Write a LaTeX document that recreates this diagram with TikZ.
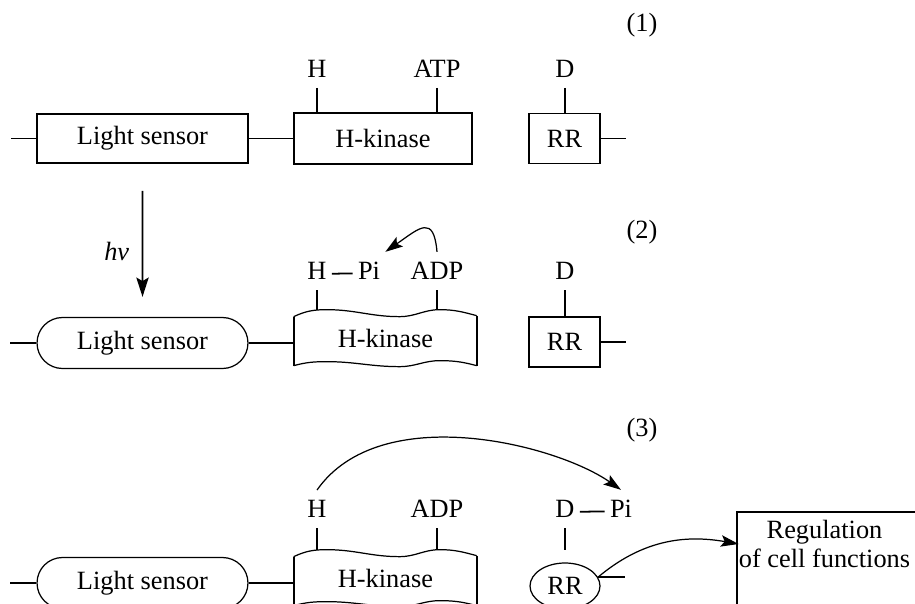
\documentclass[tikz,border=0pt]{standalone}
\usepackage{fontspec}
\setmainfont{Liberation Serif}
\usepackage{tikz}
\usetikzlibrary{
    arrows.meta,
    shapes.misc,
    shapes.geometric
}
\tikzset{
    every node/.style={font=\fontsize{15}{16}\selectfont},
    boxthick/.style={line width=1.1pt},
    thinline/.style={line width=0.7pt},
    sensorbox/.style={draw, boxthick, minimum width=4.22cm, minimum height=0.98cm, inner sep=0pt},
    sensorpill/.style={draw, thinline, rounded rectangle, minimum width=4.22cm, minimum height=1.02cm, inner sep=0pt},
    kinasebox/.style={draw, boxthick, minimum width=3.56cm, minimum height=1.02cm, inner sep=0pt},
    kinasewave/.style={minimum width=3.66cm, minimum height=1.14cm, inner sep=0pt},
    rrbox/.style={draw, boxthick, minimum width=1.42cm, minimum height=1.0cm, inner sep=0pt},
    rroval/.style={draw, thinline, ellipse, minimum width=1.4cm, minimum height=0.92cm, inner sep=0pt},
    regbox/.style={draw, boxthick, minimum width=4.8cm, minimum height=2.4cm},
    sitelabel/.style={anchor=south, inner xsep=0.1cm, inner ysep=0.2cm, text depth=0pt},
    sitetick/.style={line width=1pt},
    wire/.style={line width=1pt},
    phosarrow/.style={thinline, -{Stealth[length=10pt, width=6.5pt, inset=2pt]}},
    lightarrow/.style={line width=1pt, -{Stealth[length=11pt, width=7pt, inset=2pt]}}
}
\begin{document}
\begin{tikzpicture}[x=0.02cm, y=0.02cm]
    \useasboundingbox (0,0) rectangle (915,-604);
    \clip (0,0) rectangle (915,-604);
    % (1) dark state
    \node (n1) at (642,-25) {(1)};
    \node[sensorbox] (ls1) at (142.5,-138.5) {Light sensor};
    \node[kinasebox] (hk1) at (383,-138.5) {H-kinase};
    \node[rrbox] (rr1) at (564.5,-138.5) {RR};
    \node[sitelabel] (h1) at (317,-88) {H};
    \node[sitelabel] (atp1) at (437,-88) {ATP};
    \node[sitelabel] (d1) at (565,-88) {D};
    \draw[wire] (ls1.west) -- +(-25,0);
    \draw[wire] (ls1.east) -- (hk1.west);
    \draw[wire] (rr1.east) -- +(25,0);
    \foreach \s/\b in {h1/hk1, atp1/hk1, d1/rr1} {
        \draw[sitetick] (\s.south) -- (\s.south |- \b.north);
    }
    % (2) autophosphorylation
    \node (n2) at (642,-232) {(2)};
    \node[sensorpill] (ls2) at (142.5,-343) {Light sensor};
    \node[kinasewave] (hk2) at (385.5,-338.5) {H-kinase};
    \node[rrbox] (rr2) at (564.5,-342) {RR};
    \node[sitelabel] (h2) at (317,-290) {H};
    \node[sitelabel] (pi2) at (369,-290) {Pi};
    \node[sitelabel] (adp2) at (437,-290) {ADP};
    \node[sitelabel] (d2) at (565,-290) {D};
    \draw[lightarrow, shorten <=0.54cm, shorten >=0.4cm] (ls1) --
        node[pos=0.57, left=0.25cm, inner sep=0pt] (hv) {\textit{hν}} (ls2);
    \draw[wire] (ls2.west) -- +(-26,0);
    \draw[wire] (ls2.east) -- (ls2.east -| hk2.west);
    \draw[wire] (rr2.east) -- +(25,0);
    \draw[wire] ([yshift=-1.5pt]h2.east) -- ([yshift=-1.5pt]pi2.west);
    \foreach \s/\b in {h2/hk2, adp2/hk2, d2/rr2} {
        \draw[sitetick] (\s.south) -- (\s.south |- \b.north);
    }
    \draw[phosarrow] (adp2.north) .. controls +(95:38) and +(35:42) .. (pi2.north east);
    % (3) phosphotransfer
    \node (n3) at (642,-430) {(3)};
    \node[sensorpill] (ls3) at (142.5,-583) {Light sensor};
    \node[kinasewave] (hk3) at (385.5,-578.5) {H-kinase};
    \node[rroval] (rr3) at (565,-586) {RR};
    \node[sitelabel] (h3) at (317,-528) {H};
    \node[sitelabel] (adp3) at (437,-528) {ADP};
    \node[sitelabel] (d3) at (565,-528) {D};
    \node[sitelabel] (pi3) at (621,-528) {Pi};
    \node[regbox, anchor=north west] (reg) at (736,-511) {};
    \node[align=center, inner sep=0pt] (regtxt) at (824.5,-544) {Regulation\\of cell functions};
    \draw[wire] (ls3.west) -- +(-26,0);
    \draw[wire] (ls3.east) -- (ls3.east -| hk3.west);
    \draw[wire] (rr3.15) -- +(27,0);
    \draw[wire] ([yshift=-1.5pt]d3.east) -- ([yshift=-1.5pt]pi3.west);
    \foreach \s/\b in {h3/hk3, adp3/hk3, d3/hk3} {
        \draw[sitetick] (\s.south) -- (\s.south |- \b.north);
    }
    \draw[phosarrow] (h3.north) .. controls +(55:110) and +(145:80) .. (pi3.north);
    \draw[phosarrow] (rr3.15) to[out=40, in=170] (regtxt.west);
    % wavy kinase outlines
    \foreach \k in {hk2, hk3} {
        \draw[thinline, shift={(\k.north west)}]
            (0,-7) to[out=25, in=180] (33,0) to[out=0, in=180] (106,-7)
            to[out=0, in=180] (146,0) to[out=0, in=165] (183,-6)
            (0,-56) to[out=15, in=180] (33,-52) to[out=0, in=180] (106,-57)
            to[out=0, in=180] (146,-51) to[out=0, in=165] (183,-56);
        \draw[boxthick, shift={(\k.north west)}]
            (0,-7) -- (0,-56)
            (183,-6) -- (183,-56);
    }
\end{tikzpicture}
\end{document}
